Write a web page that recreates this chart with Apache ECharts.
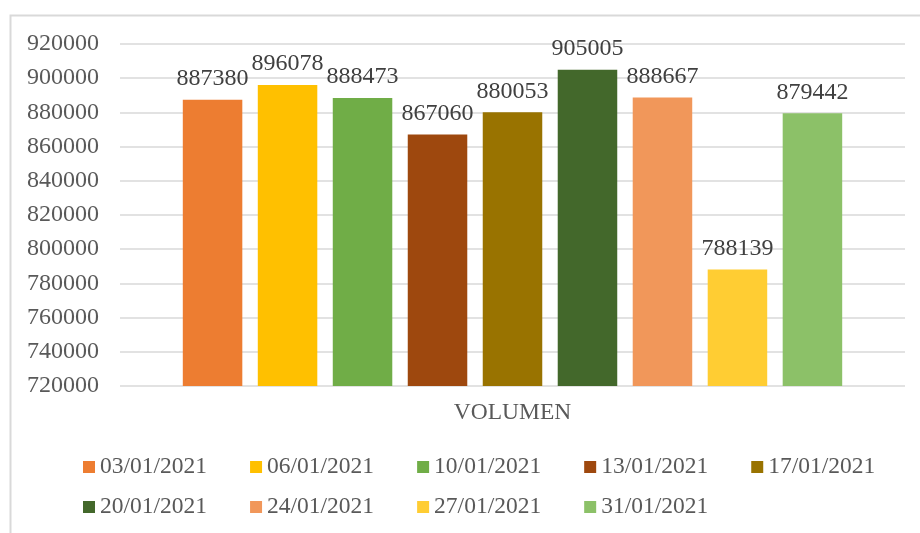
<!DOCTYPE html>
<html>
<head>
<meta charset="utf-8">
<title>VOLUMEN</title>
<script src="https://cdn.jsdelivr.net/npm/echarts@6/dist/echarts.min.js"></script>
<style>
	html, body { margin: 0; padding: 0; background: #fff; }
	#chart { width: 920px; height: 533px; }
</style>
</head>
<body>
<div id="chart"></div>
<script type="text/javascript">
	var categories = ['VOLUMEN'];
	var fechas = ['03/01/2021', '06/01/2021', '10/01/2021', '13/01/2021', '17/01/2021',
		'20/01/2021', '24/01/2021', '27/01/2021', '31/01/2021'];
	var volumen = [887380, 896078, 888473, 867060, 880053, 905005, 888667, 788139, 879442];
	var colores = ['#ED7D31', '#FFC000', '#70AD47', '#9E480E', '#997300',
		'#43682B', '#F1975A', '#FFCD33', '#8CC168'];
	var yTicks = { min: 720000, max: 920000, step: 20000 };

	var fuente = "'Liberation Serif', 'Times New Roman', serif";

	var series = fechas.map(function (f, i) {
		return {
			name: f,
			type: 'bar',
			data: [volumen[i]],
			itemStyle: { color: colores[i] },
			barGap: '26%',
			barCategoryGap: '16%',
			label: {
				show: true,
				position: 'top',
				distance: 9,
				fontFamily: fuente,
				fontSize: 24,
				color: '#404040'
			}
		};
	});

	// leyenda en dos filas, como la original
	function leyenda(items, top) {
		return {
			data: items,
			left: 78,
			top: top,
			itemWidth: 12,
			itemHeight: 12,
			itemGap: 43,
			icon: 'rect',
			textStyle: { fontFamily: fuente, fontSize: 23.5, color: '#595959' }
		};
	}

	var option = {
		animation: false,
		textStyle: { fontFamily: fuente },
		graphic: [{
			type: 'rect',
			shape: { x: 10.5, y: 15.5, width: 930, height: 540 },
			style: { fill: 'none', stroke: '#d9d9d9', lineWidth: 2 },
			silent: true
		}],
		grid: { left: 120, right: 15, top: 44, bottom: 147 },
		legend: [leyenda(fechas.slice(0, 5), 450), leyenda(fechas.slice(5), 490)],
		xAxis: {
			type: 'category',
			data: categories,
			axisLine: { show: false },
			axisTick: { show: false },
			axisLabel: { fontFamily: fuente, fontSize: 23.5, color: '#595959', margin: 15 }
		},
		yAxis: {
			type: 'value',
			min: yTicks.min,
			max: yTicks.max,
			interval: yTicks.step,
			axisLine: { show: false },
			axisTick: { show: false },
			axisLabel: {
				fontFamily: fuente, fontSize: 24, color: '#595959', margin: 21,
				formatter: function (v) { return String(v); }
			},
			splitLine: { lineStyle: { color: '#d9d9d9', width: 1.5 } }
		},
		series: series
	};

	var myChart = echarts.init(document.getElementById('chart'));
	myChart.setOption(option);
</script>
</body>
</html>
